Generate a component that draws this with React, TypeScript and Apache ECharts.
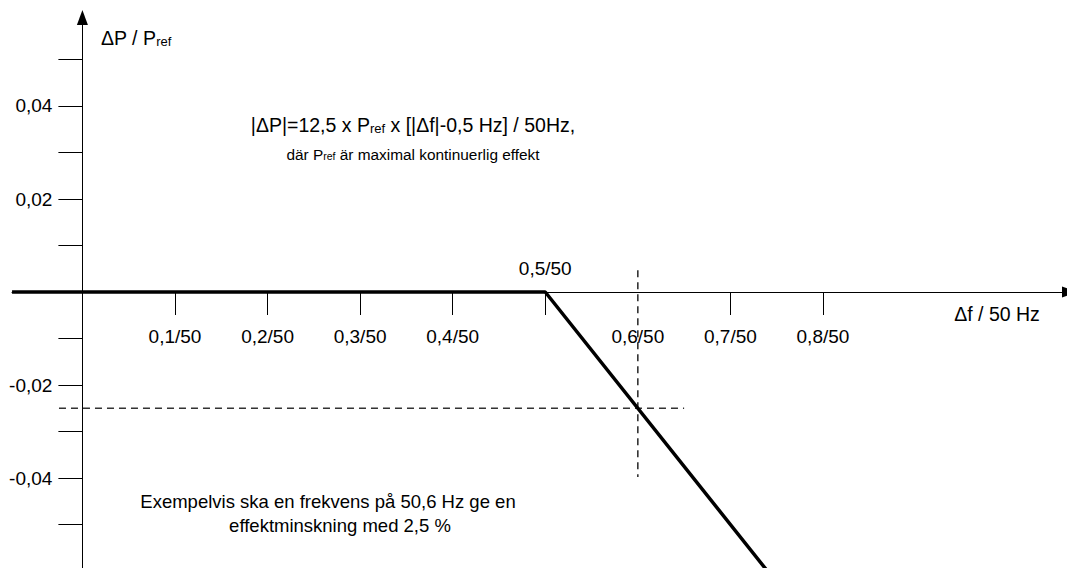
import React, { useEffect, useRef } from "react";
import * as echarts from "echarts";

// Data (Δf/50 Hz on x, ΔP/Pref on y)
const droopLine: number[][] = [
  [-0.076, 0],
  [0.5, 0],
  [0.75, -0.0625],
];
const kneeLabel = "0,5/50";
const guideHorizontal: number[][] = [
  [-0.0253, -0.025],
  [0.65, -0.025],
];
const guideVertical: number[][] = [
  [0.6, 0.0047],
  [0.6, -0.0398],
];
const xTickValues = [0.1, 0.2, 0.3, 0.4, 0.5, 0.7, 0.8];
const xLabelValues = [0.1, 0.2, 0.3, 0.4, 0.6, 0.7, 0.8];
const yTickValues = [0.05, 0.04, 0.03, 0.02, 0.01, -0.01, -0.02, -0.03, -0.04, -0.05];
const yLabelValues = [0.04, 0.02, -0.02, -0.04];

const FONT = "'Liberation Sans', Arial, Helvetica, sans-serif";

const W = 1067;
const H = 568;
const GRID_LEFT = 12;
const GRID_RIGHT = -1;
const GRID_TOP = 17.5;
const GRID_BOTTOM = 0;
const X_MIN = -0.07605;
const X_MAX = X_MIN + (W - GRID_LEFT - GRID_RIGHT) / 925.7;
const Y_MIN = -0.05935;
const Y_MAX = 0.05903;

export default function App() {
  const ref = useRef<HTMLDivElement>(null);

  useEffect(() => {
    if (!ref.current) return;
    const chart = echarts.init(ref.current, null, { renderer: "svg" });

    const plotW = W - GRID_LEFT - GRID_RIGHT;
    const plotH = H - GRID_TOP - GRID_BOTTOM;
    // axis positions on the zero lines
    const zeroX = GRID_LEFT + ((0 - X_MIN) / (X_MAX - X_MIN)) * plotW;
    const zeroY = GRID_TOP + ((Y_MAX - 0) / (Y_MAX - Y_MIN)) * plotH;
    const yAxisOffset = -(zeroX - GRID_LEFT);
    const xAxisOffset = -(H - GRID_BOTTOM - zeroY);
    const yAxisTop = GRID_TOP;
    const xAxisEnd = W - GRID_RIGHT;

    const labelStyle = { fontFamily: FONT, fontSize: 19, color: "#000" };

    const option: any = {
      animation: false,
      backgroundColor: "#fff",
      grid: {
        left: GRID_LEFT,
        right: GRID_RIGHT,
        top: GRID_TOP,
        bottom: GRID_BOTTOM,
        containLabel: false,
        outerBoundsMode: "none",
      },
      xAxis: {
        type: "value",
        min: X_MIN,
        max: X_MAX,
        position: "bottom",
        offset: xAxisOffset,
        axisLine: {
          show: true,
          onZero: false,
          lineStyle: { color: "#000", width: 1 },
        },
        axisTick: {
          show: true,
          length: 23,
          customValues: xTickValues,
          lineStyle: { color: "#000", width: 1 },
        },
        axisLabel: {
          show: true,
          customValues: xLabelValues,
          margin: 35,
          ...labelStyle,
          formatter: (v: number) => v.toFixed(1).replace(".", ",") + "/50",
        },
        splitLine: { show: false },
      },
      yAxis: {
        type: "value",
        min: Y_MIN,
        max: Y_MAX,
        position: "left",
        offset: yAxisOffset,
        axisLine: {
          show: true,
          onZero: false,
          lineStyle: { color: "#000", width: 1 },
        },
        axisTick: {
          show: true,
          length: 24,
          customValues: yTickValues,
          lineStyle: { color: "#000", width: 1 },
        },
        axisLabel: {
          show: true,
          customValues: yLabelValues,
          margin: 30,
          ...labelStyle,
          formatter: (v: number) => v.toFixed(2).replace(".", ","),
        },
        splitLine: { show: false },
      },
      series: [
        {
          type: "line",
          data: droopLine.map((p) =>
            p[0] === 0.5 && p[1] === 0
              ? {
                  value: p,
                  label: {
                    show: true,
                    position: "top",
                    distance: 14,
                    formatter: kneeLabel,
                    ...labelStyle,
                  },
                }
              : { value: p }
          ),
          showSymbol: true,
          symbol: "circle",
          symbolSize: 0,
          lineStyle: { color: "#000", width: 3.5 },
          itemStyle: { color: "#000" },
          clip: true,
          z: 5,
        },
        {
          type: "line",
          data: guideHorizontal,
          symbol: "none",
          lineStyle: { color: "#333", width: 1.6, type: [7, 5] },
          z: 3,
        },
        {
          type: "line",
          data: guideVertical,
          symbol: "none",
          lineStyle: { color: "#333", width: 1.6, type: [7, 5] },
          z: 3,
        },
      ],
      graphic: [
        // axis arrow heads
        {
          type: "polygon",
          z: 100,
          shape: {
            points: [
              [zeroX, yAxisTop - 7.5],
              [zeroX - 5.5, yAxisTop + 7.5],
              [zeroX + 5.5, yAxisTop + 7.5],
            ],
          },
          style: { fill: "#000" },
        },
        {
          type: "polygon",
          z: 100,
          shape: {
            points: [
              [xAxisEnd + 9, zeroY],
              [xAxisEnd - 6, zeroY - 5.5],
              [xAxisEnd - 6, zeroY + 5.5],
            ],
          },
          style: { fill: "#000" },
        },
        {
          type: "text",
          x: 101,
          y: 37,
          style: {
            text: "{a|ΔP / P}{b|ref}",
            textVerticalAlign: "middle",
            rich: {
              a: { fontFamily: FONT, fontSize: 19.5, lineHeight: 21, verticalAlign: "bottom", fill: "#000" },
              b: { fontFamily: FONT, fontSize: 13, lineHeight: 8, verticalAlign: "bottom", fill: "#000" },
            },
          },
        },
        {
          type: "text",
          x: 997,
          y: 314,
          style: {
            text: "Δf / 50 Hz",
            textAlign: "center",
            textVerticalAlign: "middle",
            font: `19.5px ${FONT}`,
            fill: "#000",
          },
        },
        {
          type: "text",
          x: 413,
          y: 124,
          style: {
            text: "{a||ΔP|=12,5 x P}{b|ref}{a| x [|Δf|-0,5 Hz] / 50Hz,}",
            textAlign: "center",
            textVerticalAlign: "middle",
            rich: {
              a: { fontFamily: FONT, fontSize: 19.5, lineHeight: 21, verticalAlign: "bottom", fill: "#000" },
              b: { fontFamily: FONT, fontSize: 13, lineHeight: 8, verticalAlign: "bottom", fill: "#000" },
            },
          },
        },
        {
          type: "text",
          x: 413,
          y: 153,
          style: {
            text: "{a|där P}{b|ref}{a| är maximal kontinuerlig effekt}",
            textAlign: "center",
            textVerticalAlign: "middle",
            rich: {
              a: { fontFamily: FONT, fontSize: 15.4, lineHeight: 17, verticalAlign: "bottom", fill: "#000" },
              b: { fontFamily: FONT, fontSize: 10.5, lineHeight: 7, verticalAlign: "bottom", fill: "#000" },
            },
          },
        },
        {
          type: "text",
          x: 328,
          y: 501,
          style: {
            text: "Exempelvis ska en frekvens på 50,6 Hz ge en",
            textAlign: "center",
            textVerticalAlign: "middle",
            font: `18.5px ${FONT}`,
            fill: "#000",
          },
        },
        {
          type: "text",
          x: 340,
          y: 525,
          style: {
            text: "effektminskning med 2,5 %",
            textAlign: "center",
            textVerticalAlign: "middle",
            font: `18.5px ${FONT}`,
            fill: "#000",
          },
        },
      ],
    };

    chart.setOption(option);
    return () => chart.dispose();
  }, []);

  return (
    <div
      ref={ref}
      style={{
        position: "fixed",
        left: 0,
        top: 0,
        width: W,
        height: H,
        background: "#fff",
      }}
    />
  );
}
